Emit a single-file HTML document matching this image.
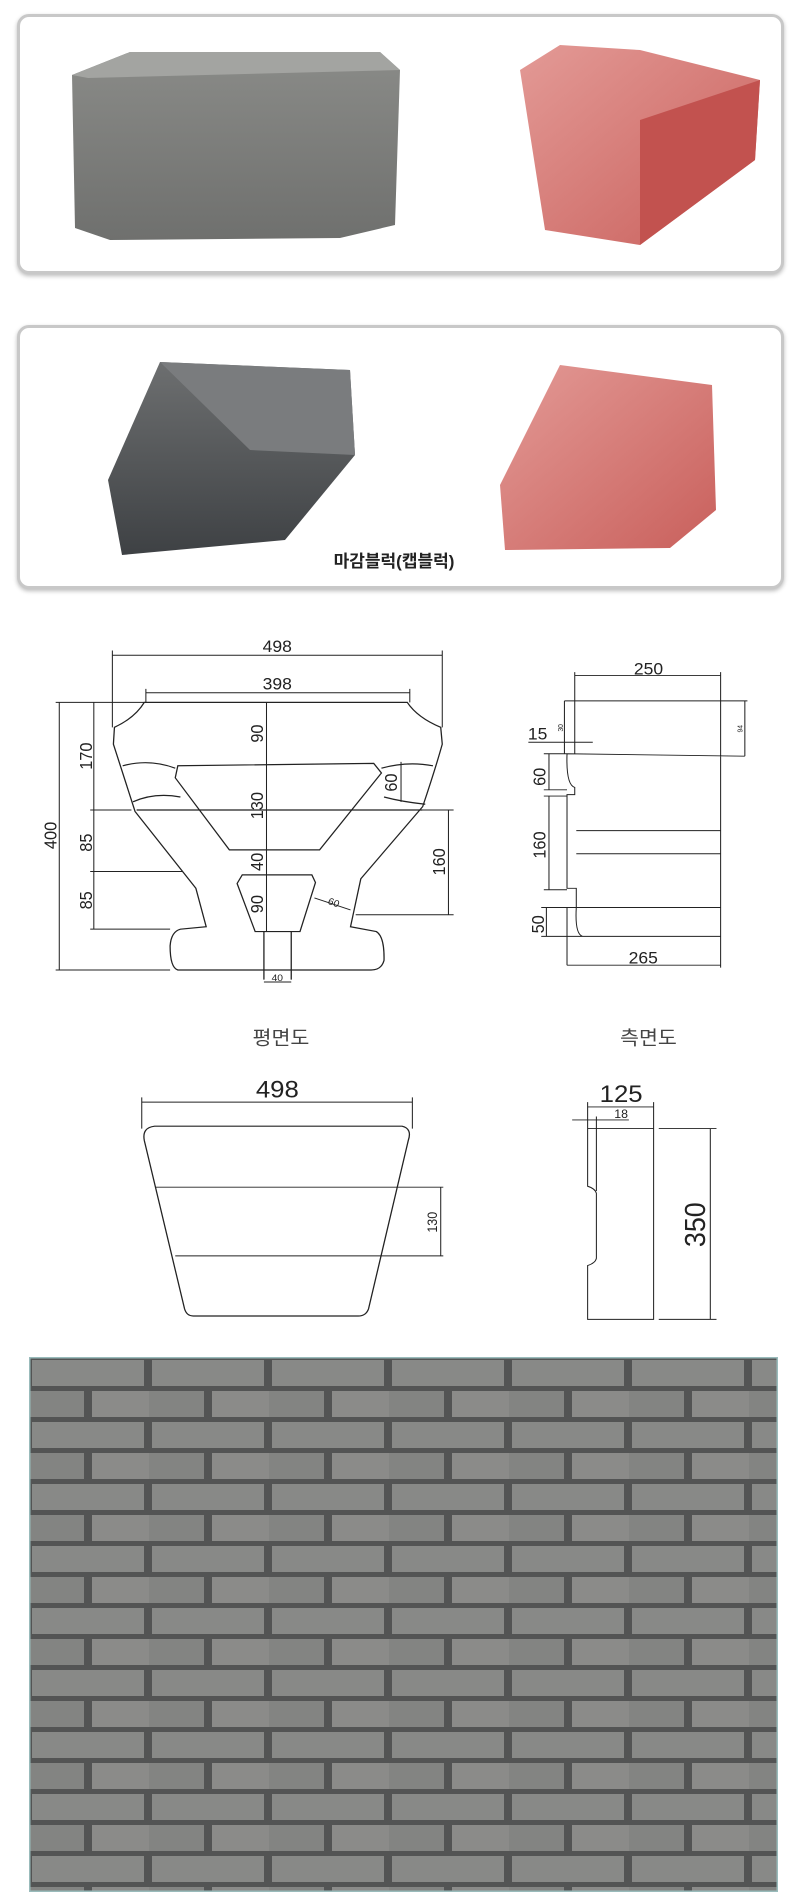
<!DOCTYPE html>
<html><head><meta charset="utf-8"><style>
body{margin:0;width:800px;height:1904px;background:#fff;position:relative;overflow:hidden;font-family:"Liberation Sans","Noto Sans CJK KR",sans-serif}
.panel{position:absolute;left:17px;width:761px;border:3px solid #c8c8c8;border-radius:12px;box-shadow:0 2px 4px #bbb;background:#fff}
svg{position:absolute;left:0}
</style></head><body>
<div class="panel" style="top:14px;height:254px"></div>
<div class="panel" style="top:325px;height:258px"></div>
<svg style="top:0" width="800" height="600">
<defs>
<linearGradient id="g1" x1="0" y1="0" x2="0" y2="1"><stop offset="0" stop-color="#8a8b88"/><stop offset="1" stop-color="#6f706e"/></linearGradient>
<linearGradient id="r1" x1="0" y1="0" x2="1" y2="1"><stop offset="0" stop-color="#e39a96"/><stop offset="1" stop-color="#c9605c"/></linearGradient>
<linearGradient id="g2" x1="0" y1="0" x2="0" y2="1"><stop offset="0" stop-color="#6d6f70"/><stop offset="1" stop-color="#3e4144"/></linearGradient>
</defs>
<path d="M72 75 L130 52 L380 52 L400 70 L395 225 L340 238 L110 240 L75 228 Z" fill="url(#g1)"/>
<path d="M72 75 L130 52 L380 52 L400 70 L88 78 Z" fill="#a3a4a1"/>
<path d="M520 70 L560 45 L640 50 L760 80 L755 160 L640 245 L545 230 Z" fill="url(#r1)"/>
<path d="M640 120 L760 80 L755 160 L640 245 Z" fill="#c2524f"/>
<path d="M108 480 L160 362 L350 370 L355 455 L285 540 L122 555 Z" fill="url(#g2)"/>
<path d="M160 362 L350 370 L355 455 L250 450 Z" fill="#7a7c7e"/>
<path d="M500 485 L560 365 L712 385 L716 510 L670 548 L505 550 Z" fill="url(#r1)"/>
<text x="394" y="567" font-size="17" font-weight="bold" text-anchor="middle" fill="#222">마감블럭(캡블럭)</text>
</svg>
<svg style="top:600px" width="800" height="740" viewBox="0 0 1552 1540" preserveAspectRatio="none" fill="none" stroke="#222" stroke-width="2.5" font-family="Liberation Sans, Noto Sans CJK KR, sans-serif">
<g>
<path d="M280 213 L790 213 Q810 245 855 265 L858 300 Q845 350 820 430 L700 580 L680 680 L730 690 Q746 700 745 750 Q740 770 720 770 L345 770 Q330 765 330 720 Q332 690 350 685 L400 680 L380 600 L262 440 L220 300 L222 265 Q262 245 280 213 Z"/>
<path d="M345 345 L725 340 L740 360 L620 520 L445 520 L340 370 Z"/>
<path d="M470 572 L605 572 L612 588 L582 690 L495 690 L460 590 Z"/>
<path d="M265 437 L820 437 M238 345 Q290 330 340 350 M258 420 Q300 400 350 410 M740 350 Q790 335 840 345 M745 410 Q780 420 825 425"/>
<path d="M512 690 V790 M565 690 V790"/>
<g stroke-width="2"><path d="M218 115 H858 M218 105 V265 M858 105 V265 M283 193 H795 M283 185 V213 M795 185 V213 M115 213 V770 M108 213 H280 M108 770 H330 M182 213 V685 M175 437 H255 M175 565 H355 M175 685 H330 M517 213 V690 M870 437 V655 M820 437 H880 M690 655 H880 M778 337 V420 M512 795 H565 M610 620 L680 645"/></g>
<g fill="#222" stroke="none" font-size="34" text-anchor="middle">
<text x="538" y="108">498</text><text x="538" y="186">398</text>
<text transform="translate(110 490) rotate(-90)">400</text>
<text transform="translate(178 325) rotate(-90)">170</text>
<text transform="translate(178 505) rotate(-90)">85</text>
<text transform="translate(178 625) rotate(-90)">85</text>
<text transform="translate(510 278) rotate(-90)">90</text>
<text transform="translate(510 428) rotate(-90)">130</text>
<text transform="translate(510 545) rotate(-90)">40</text>
<text transform="translate(510 633) rotate(-90)">90</text>
<text transform="translate(863 545) rotate(-90)">160</text>
<text transform="translate(770 380) rotate(-90)">60</text>
<text x="538" y="793" font-size="20">40</text>
<text x="645" y="636" font-size="20" transform="rotate(20 645 636)">60</text>
</g>
<path d="M1115 150 V320 M1398 150 V700 M1115 157 H1398 M1095 210 H1450 M1445 210 V325 M1100 320 L1445 325 M1100 320 Q1098 385 1115 390 L1115 405 H1100 V600 H1118 V640 M1118 480 H1398 M1118 528 H1398 M1100 640 H1398 M1100 700 H1398 M1100 640 V760 M1118 640 Q1115 695 1130 700 M1100 760 H1398 M1398 700 V765 M1025 296 H1150 M1095 210 V320 M1065 320 V395 M1055 320 H1100 M1055 395 H1100 M1065 408 V603 M1055 408 H1100 M1055 603 H1100 M1060 640 V700 M1050 640 H1100 M1050 700 H1100" stroke-width="2"/>
<g fill="#222" stroke="none" font-size="34" text-anchor="middle">
<text x="1258" y="155">250</text><text x="1043" y="290">15</text>
<text transform="translate(1058 368) rotate(-90)">60</text>
<text transform="translate(1058 510) rotate(-90)">160</text>
<text transform="translate(1055 675) rotate(-90)">50</text>
<text x="1248" y="757">265</text>
<text transform="translate(1092 266) rotate(-90)" font-size="14">30</text>
<text transform="translate(1440 268) rotate(-90)" font-size="14">94</text>
<text x="545" y="925" font-size="40" fill="#444">평면도</text>
<text x="1258" y="925" font-size="40" fill="#444">측면도</text>
</g>
<path d="M300 1095 L780 1095 Q800 1100 792 1125 L715 1475 Q710 1490 695 1490 L375 1490 Q362 1490 358 1475 L280 1125 Q275 1098 300 1095 Z"/>
<path d="M302 1222 H860 M340 1365 H860 M855 1222 V1365 M275 1045 H800 M275 1035 V1100 M800 1035 V1100" stroke-width="2"/>
<path d="M1140 1100 H1268 V1497 H1140 V1385 Q1155 1380 1157 1370 V1235 Q1155 1225 1140 1220 Z M1140 1055 H1268 M1140 1045 V1100 M1268 1045 V1100 M1110 1082 H1220 M1157 1075 V1230 M1278 1100 H1390 M1278 1497 H1390 M1378 1100 V1497" stroke-width="2"/>
<g fill="#222" stroke="none" text-anchor="middle">
<text x="538" y="1035" font-size="50">498</text>
<text transform="translate(848 1295) rotate(-90)" font-size="26">130</text>
<text x="1205" y="1045" font-size="50">125</text>
<text x="1205" y="1078" font-size="24">18</text>
<text transform="translate(1368 1300) rotate(-90)" font-size="56">350</text>
</g>
</g>
</svg>
<svg style="top:1357px;left:29px" width="749" height="535">
<defs><pattern id="br" width="120" height="62" patternUnits="userSpaceOnUse">
<rect width="120" height="62" fill="#4d4e4e"/>
<rect x="3" y="3" width="112" height="26" fill="#8b8c8a"/>
<rect x="-57" y="34" width="112" height="26" fill="#858684"/>
<rect x="63" y="34" width="112" height="26" fill="#8f8f8c"/>
</pattern></defs>
<rect width="749" height="535" fill="url(#br)"/>
<rect width="749" height="535" fill="#777" opacity="0.15"/>
<rect x="0" y="0" width="749" height="535" fill="none" stroke="#9bb" stroke-width="3"/>
</svg>
</body></html>
